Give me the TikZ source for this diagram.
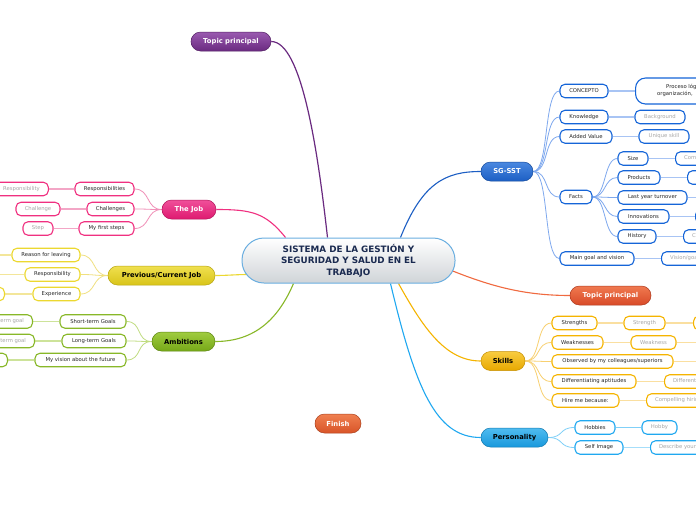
\documentclass[tikz,border=0pt]{standalone}
\usepackage{fontspec}
\setmainfont{DejaVu Sans}
\definecolor{pur}{HTML}{6A2A80}
\definecolor{purL}{HTML}{9A5AB0}
\definecolor{bmain}{HTML}{1D5FC4}
\definecolor{bmainL}{HTML}{4A88E0}
\definecolor{bkid}{HTML}{1565D8}
\definecolor{blink}{HTML}{7EA8EE}
\definecolor{bglink}{HTML}{A8C4F4}
\definecolor{red1}{HTML}{D84A28}
\definecolor{red1L}{HTML}{F07A50}
\definecolor{redlink}{HTML}{F06A40}
\definecolor{gold}{HTML}{E8A800}
\definecolor{goldL}{HTML}{F8CC40}
\definecolor{goldkid}{HTML}{F5B400}
\definecolor{goldlink}{HTML}{F8D070}
\definecolor{goldglink}{HTML}{FADFA0}
\definecolor{lb}{HTML}{1898DC}
\definecolor{lbL}{HTML}{50BCF0}
\definecolor{lbkid}{HTML}{20A8F0}
\definecolor{lblink}{HTML}{80D0F8}
\definecolor{pink}{HTML}{DE1A70}
\definecolor{pinkL}{HTML}{F0509A}
\definecolor{pinkkid}{HTML}{F03080}
\definecolor{pinklink}{HTML}{F090B8}
\definecolor{yel}{HTML}{D8C418}
\definecolor{yelL}{HTML}{F0E050}
\definecolor{yelkid}{HTML}{ECD830}
\definecolor{yellink}{HTML}{F0E080}
\definecolor{grn}{HTML}{76A818}
\definecolor{grnL}{HTML}{A0CC40}
\definecolor{grnkid}{HTML}{88B828}
\definecolor{grnlink}{HTML}{C0DC80}
\definecolor{fin}{HTML}{D85428}
\definecolor{finL}{HTML}{F08050}
\definecolor{ctrb}{HTML}{6AAEE0}
\definecolor{ctrg}{HTML}{D0D4D8}
\definecolor{ctrt}{HTML}{1A2A50}
\pgfdeclarelayer{background}
\pgfsetlayers{background,main}
\begin{document}
\begin{tikzpicture}[x=1pt,y=-1pt,
  kid/.style={draw=#1, line width=1.1pt, fill=white, rounded corners=5pt, minimum height=13.5pt, inner xsep=8.5pt, inner ysep=0pt, font=\fontsize{5.3}{6.5}\selectfont, text=black!85},
  gkid/.style={kid=#1, text=black!35},
  mainnode/.style={rounded corners=9.5pt, minimum height=19pt, inner xsep=5pt, inner ysep=0pt, font=\fontsize{6.8}{8}\selectfont\bfseries, text=white, line width=0.5pt},
  link/.style={line width=0.8pt},
  glink/.style={line width=1.6pt}
]
\useasboundingbox (0,0) rectangle (696,520);
\clip (0,0) rectangle (696,520);

% central
\node[draw=ctrb, line width=1pt, top color=white, bottom color=ctrg, rounded corners=22pt, minimum width=213pt, minimum height=45pt, align=center, font=\fontsize{8.8}{11.5}\selectfont\bfseries, text=ctrt] (ctr) at (348.5,260.5) {SISTEMA DE LA GESTIÓN Y\\SEGURIDAD Y SALUD EN EL\\TRABAJO};

% main branches
\node[mainnode, top color=purL, bottom color=pur, draw=pur!80!black, minimum width=80pt] (tp1) at (231,41.5) {Topic principal};
\node[mainnode, top color=bmainL, bottom color=bmain, draw=bmain!80!black, minimum width=52pt] (sg) at (507,171.5) {SG-SST};
\node[mainnode, top color=red1L, bottom color=red1, draw=red1!80!black, minimum width=81pt] (tp2) at (610.5,295.5) {Topic principal};
\node[mainnode, top color=goldL, bottom color=gold, draw=gold!85!black, minimum width=44pt, text=black] (sk) at (503,361) {Skills};
\node[mainnode, top color=lbL, bottom color=lb, draw=lb!80!black, minimum width=67pt, text=black] (pe) at (514.5,437.5) {Personality};
\node[mainnode, top color=finL, bottom color=fin, draw=fin!80!black, minimum width=46pt] (fin) at (338,423.5) {Finish};
\node[mainnode, top color=pinkL, bottom color=pink, draw=pink!80!black, minimum width=54pt] (job) at (189,209.5) {The Job};
\node[mainnode, top color=yelL, bottom color=yel, draw=yel!85!black, minimum width=107pt, text=black] (prev) at (161.5,275.5) {Previous/Current Job};
\node[mainnode, top color=grnL, bottom color=grn, draw=grn!80!black, minimum width=63pt, text=black] (amb) at (183.5,341.5) {Ambitions};

% SG-SST kids
\node[kid=bkid, minimum width=48pt] (concepto) at (584,91) {CONCEPTO};
\node[kid=bkid, minimum width=48pt] (know) at (584,117) {Knowledge};
\node[kid=bkid, minimum width=52pt] (addv) at (586,136.5) {Added Value};
\node[kid=bkid, minimum width=32pt] (facts) at (576,197) {Facts};
\node[kid=bkid, minimum width=30pt] (size) at (633,158.5) {Size};
\node[kid=bkid, minimum width=42pt] (prod) at (639,177.5) {Products};
\node[kid=bkid, minimum width=69pt] (lyt) at (652.5,197.5) {Last year turnover};
\node[kid=bkid, minimum width=51pt] (innov) at (643.5,216.5) {Innovations};
\node[kid=bkid, minimum width=38pt] (hist) at (637,236.5) {History};
\node[kid=bkid, minimum width=74pt] (mgv) at (597,258.5) {Main goal and vision};

\node[kid=bkid, anchor=west, minimum width=130pt, minimum height=26pt, rounded corners=10pt] (concbox) at (635,91) {};
\node[anchor=west, align=left, inner sep=0pt, font=\fontsize{5.3}{7}\selectfont, text=black!85] (conctxt) at (657,90) {\hspace*{9pt}Proceso lógico\\organización,};
\node[gkid=bkid, minimum width=50pt] (bg) at (660,117) {Background};
\node[gkid=bkid, minimum width=50pt] (us) at (664,136.5) {Unique skill};
\node[gkid=bkid, anchor=west] (csize) at (675,158.5) {Company size};
\node[gkid=bkid, anchor=west, minimum width=40pt] (cprod) at (687,177.5) {};
\coordinate (clyt) at (700,197.5);
\node[gkid=bkid, anchor=west, minimum width=40pt] (cinnov) at (695,216.5) {};
\node[gkid=bkid, anchor=west] (chist) at (683,236.5) {Company history};
\node[gkid=bkid, anchor=west] (cmgv) at (661,258.5) {Vision/goals};

% Skills kids
\node[kid=goldkid, minimum width=45pt] (str) at (574.5,323) {Strengths};
\node[kid=goldkid, minimum width=51pt] (weak) at (577.5,342.5) {Weaknesses};
\node[kid=goldkid, minimum width=121pt] (obs) at (612.5,361.5) {Observed by my colleagues/superiors};
\node[kid=goldkid, minimum width=84pt] (diff) at (594,381.5) {Differentiating aptitudes};
\node[kid=goldkid, minimum width=67pt] (hire) at (585.5,400.5) {Hire me because:};
\node[gkid=goldkid, minimum width=41pt] (strg) at (644.5,323) {Strength};
\node[gkid=goldkid, anchor=west, minimum width=40pt] (strg2) at (693,323) {};
\node[gkid=goldkid, minimum width=45pt] (weakg) at (653.5,342.5) {Weakness};
\coordinate (weakc) at (700,342.5);
\coordinate (obsc) at (700,361.5);
\node[gkid=goldkid, anchor=west] (diffg) at (664,381.5) {Differentiating aptitude};
\node[gkid=goldkid, anchor=west] (hireg) at (646,400.5) {Compelling hiring reason};

% Personality kids
\node[kid=lbkid, minimum width=40pt] (hob) at (595,427.5) {Hobbies};
\node[kid=lbkid, minimum width=48pt] (self) at (599,447.5) {Self Image};
\node[gkid=lbkid, minimum width=35pt] (hobg) at (659.5,427.5) {Hobby};
\node[gkid=lbkid, anchor=west] (selfg) at (650,447.5) {Describe yourself};

% The Job kids
\node[kid=pinkkid, minimum width=59pt] (resp) at (104.5,189) {Responsibilities};
\node[kid=pinkkid, minimum width=47pt] (chal) at (110.5,209) {Challenges};
\node[kid=pinkkid, minimum width=55pt] (mfs) at (106.5,228.5) {My first steps};
\node[gkid=pinkkid, minimum width=53pt] (respg) at (21.5,189) {Responsibility};
\node[gkid=pinkkid, minimum width=44pt] (chalg) at (38,209) {Challenge};
\node[gkid=pinkkid, minimum width=30pt] (stepg) at (38,228.5) {Step};

% Previous job kids
\node[kid=yelkid, minimum width=68pt] (rfl) at (46,255) {Reason for leaving};
\node[kid=yelkid, minimum width=55pt] (yresp) at (52.5,274.5) {Responsibility};
\node[kid=yelkid, minimum width=47pt] (exp) at (56.5,294) {Experience};
\coordinate (rflc) at (-5,255);
\coordinate (yrespc) at (-5,274.5);
\node[gkid=yelkid, anchor=east, minimum width=40pt] (expg) at (5,294) {};

% Ambitions kids
\node[kid=grnkid, minimum width=66pt] (stg) at (93,321.5) {Short-term Goals};
\node[kid=grnkid, minimum width=64pt] (ltg) at (94,341) {Long-term Goals};
\node[kid=grnkid, minimum width=91pt] (mvf) at (80.5,360) {My vision about the future};
\node[gkid=grnkid, anchor=east] (stgg) at (33,321.5) {Short-term goal};
\node[gkid=grnkid, anchor=east] (ltgg) at (35,341) {Long-term goal};
\node[gkid=grnkid, anchor=east, minimum width=40pt] (mvfg) at (8,360) {};

% ---------- connectors (behind nodes) ----------
\begin{pgfonlayer}{background}
\fill[white] (0,0) rectangle (696,520);
% central to main branches
\draw[pur, line width=1.2pt] ([xshift=-21pt]ctr.north) .. controls +(-10,-90) and +(30,0) .. (tp1.east);
\draw[bmain, line width=1.1pt] ([xshift=52pt]ctr.north) .. controls +(22,-55) and +(-35,0) .. (sg.west);
\draw[redlink, line width=1.1pt] ([xshift=103pt,yshift=-10pt]ctr.center) .. controls +(40,16) and +(-45,0) .. (tp2.west);
\draw[goldkid, line width=1.1pt] ([xshift=50pt]ctr.south) .. controls +(25,45) and +(-35,0) .. (sk.west);
\draw[lbkid, line width=1.1pt] ([xshift=42pt]ctr.south) .. controls +(25,105) and +(-45,0) .. (pe.west);
\draw[pinkkid, line width=1.1pt] ([xshift=-63pt]ctr.north) .. controls +(-20,-25) and +(35,0) .. (job.east);
\draw[yelkid, line width=1.1pt] ([xshift=-100pt,yshift=-14pt]ctr.center) .. controls +(-12,0) and +(12,0) .. (prev.east);
\draw[grnkid, line width=1.1pt] ([xshift=-55pt]ctr.south) .. controls +(-15,35) and +(40,0) .. (amb.east);

% SG-SST
\foreach \c in {concepto,know,addv,facts,mgv}
  \draw[blink, link] (sg.east) .. controls +(16,0) and +(-16,0) .. (\c.west);
\foreach \c in {size,prod,lyt,innov,hist}
  \draw[blink, link] (facts.east) .. controls +(14,0) and +(-14,0) .. (\c.west);
\draw[bglink, glink] (concepto.east) -- (concbox.west);
\draw[bglink, glink] (know.east) -- (bg.west);
\draw[bglink, glink] (addv.east) -- (us.west);
\draw[bglink, glink] (size.east) -- (csize.west);
\draw[bglink, glink] (prod.east) -- (cprod.west);
\draw[bglink, glink] (lyt.east) -- (clyt);
\draw[bglink, glink] (innov.east) -- (cinnov.west);
\draw[bglink, glink] (hist.east) -- (chist.west);
\draw[bglink, glink] (mgv.east) -- (cmgv.west);

% Skills
\foreach \c in {str,weak,obs,diff,hire}
  \draw[goldlink, link] (sk.east) .. controls +(16,0) and +(-16,0) .. (\c.west);
\draw[goldglink, glink] (str.east) -- (strg.west);
\draw[goldglink, glink] (strg.east) -- (strg2.west);
\draw[goldglink, glink] (weak.east) -- (weakg.west);
\draw[goldglink, glink] (weakg.east) -- (weakc);
\draw[goldglink, glink] (obs.east) -- (obsc);
\draw[goldglink, glink] (diff.east) -- (diffg.west);
\draw[goldglink, glink] (hire.east) -- (hireg.west);

% Personality
\foreach \c in {hob,self}
  \draw[lblink, link] (pe.east) .. controls +(16,0) and +(-16,0) .. (\c.west);
\draw[lblink, glink] (hob.east) -- (hobg.west);
\draw[lblink!70, glink] (self.east) -- (selfg.west);

% The Job
\foreach \c in {resp,chal,mfs}
  \draw[pinklink, link] (job.west) .. controls +(-16,0) and +(16,0) .. (\c.east);
\draw[pinklink!80, glink] (resp.west) -- (respg.east);
\draw[pinklink!80, glink] (chal.west) -- (chalg.east);
\draw[pinklink!80, glink] (mfs.west) -- (stepg.east);

% Previous job
\foreach \c in {rfl,yresp,exp}
  \draw[yellink, link] (prev.west) .. controls +(-16,0) and +(16,0) .. (\c.east);
\draw[yellink!80, glink] (rfl.west) -- (rflc);
\draw[yellink!80, glink] (yresp.west) -- (yrespc);
\draw[yellink!80, glink] (exp.west) -- (expg.east);

% Ambitions
\foreach \c in {stg,ltg,mvf}
  \draw[grnlink, link] (amb.west) .. controls +(-16,0) and +(16,0) .. (\c.east);
\draw[grnlink!80, glink] (stg.west) -- (stgg.east);
\draw[grnlink!80, glink] (ltg.west) -- (ltgg.east);
\draw[grnlink!80, glink] (mvf.west) -- (mvfg.east);
\end{pgfonlayer}
\end{tikzpicture}
\end{document}
